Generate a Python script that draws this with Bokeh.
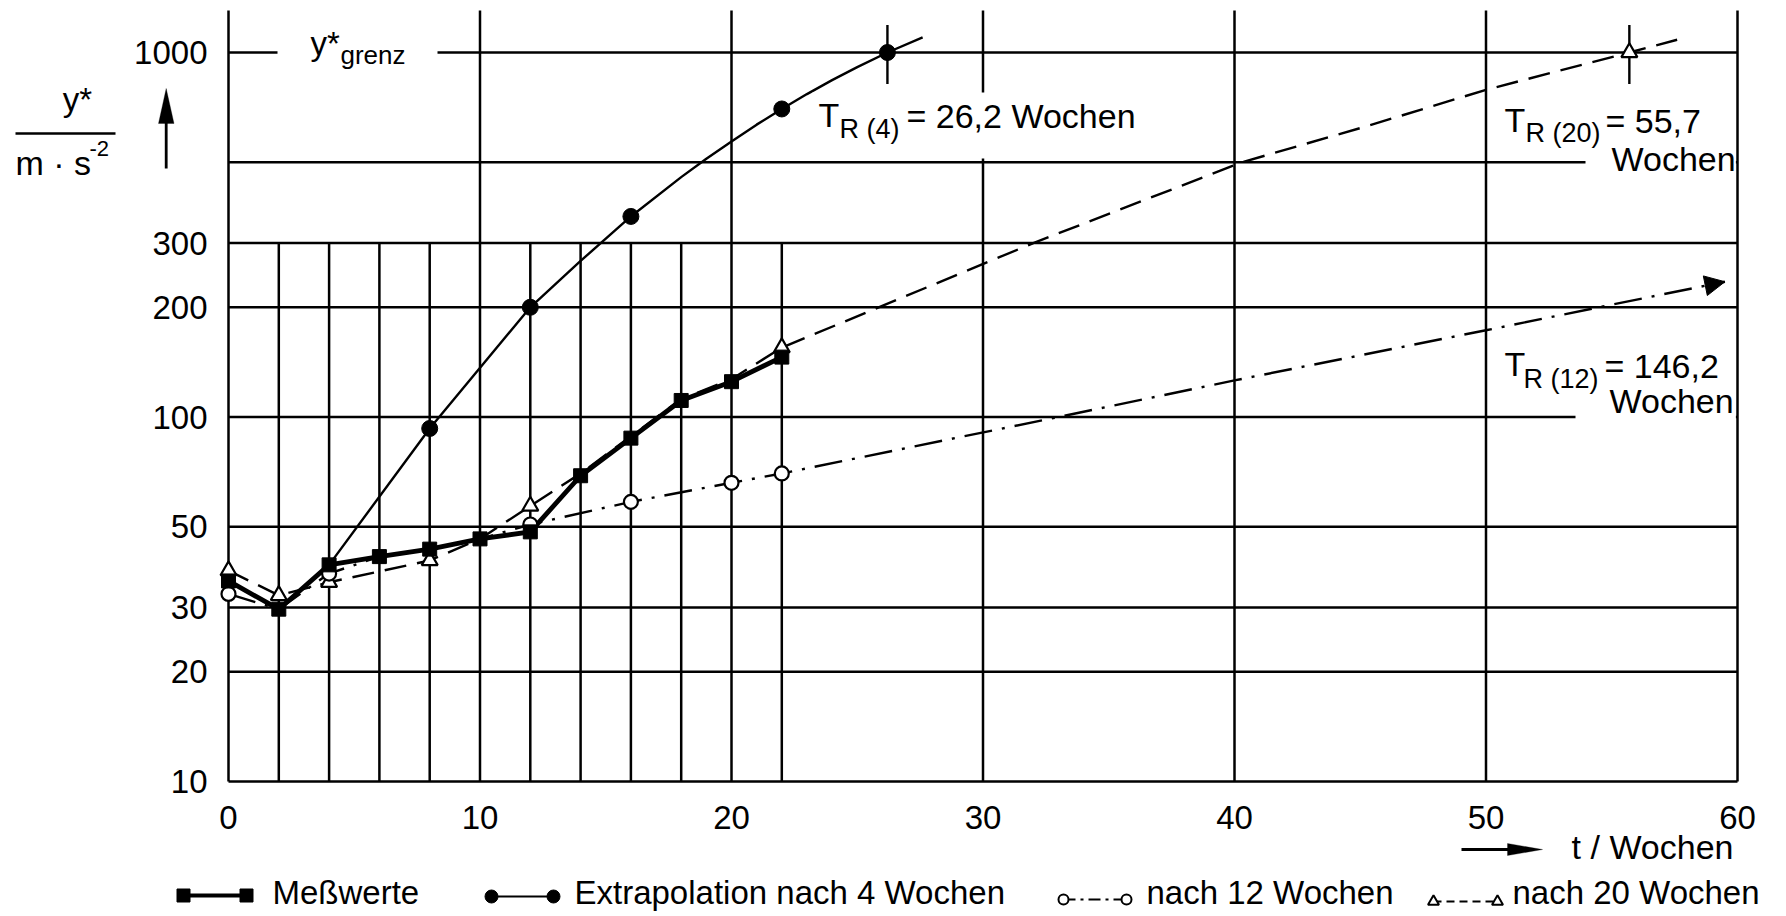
from bokeh.plotting import figure
from bokeh.models import (FixedTicker, NumeralTickFormatter, Label, BoxAnnotation,
                          Arrow, NormalHead, PolyAnnotation)
from bokeh.embed import file_html
from bokeh.resources import INLINE

FONT = "Liberation Sans"

# ---------------- data ----------------
# Messwerte (filled squares)
t_mess = [0, 2, 4, 6, 8, 10, 12, 14, 16, 18, 20, 22]
y_mess = [35.5, 29.7, 39.3, 41.4, 43.4, 46.3, 48.4, 69.0, 87.5, 111.0, 125.0, 146.0]

# Extrapolation nach 4 Wochen (filled circles, thin solid curve)
t_ex4_marks = [8, 12, 16, 22, 26.2]
y_ex4_marks = [93, 200, 355, 700, 1000]
t_ex4_curve = [4, 8, 12, 14, 16, 18, 19, 20, 21, 22, 23, 24, 25, 26.2, 27.6]
y_ex4_curve = [39.3, 93, 200, 268, 355, 455, 511, 570, 634, 700, 769, 840, 912, 1000, 1100]

# nach 12 Wochen (open circles, dash-dot curve)
t_ex12_marks = [0, 4, 12, 16, 20, 22]
y_ex12_marks = [32.7, 37.2, 50.7, 58.5, 66.0, 70.0]
t_ex12_curve = [0, 2, 4, 6, 8, 10, 12, 16, 20, 22, 33, 40, 50, 59.5]
y_ex12_curve = [32.7, 29.7, 37.2, 41.4, 43.4, 46.3, 50.7, 58.5, 66.0, 70.0, 100, 126, 173, 235]

# nach 20 Wochen (open triangles, dashed curve)
t_ex20_marks = [0, 2, 4, 8, 12, 22, 55.7]
y_ex20_marks = [37.9, 32.4, 35.2, 40.4, 57.0, 155, 1000]
t_ex20_curve = [0, 2, 4, 8, 10, 12, 14, 16, 18, 20, 22, 32, 40.3, 45.2, 50, 55.7, 57.6]
y_ex20_curve = [37.9, 32.4, 35.2, 40.4, 46.3, 57.0, 70, 88.5, 112, 127, 155, 300, 500, 626, 790, 1000, 1084]

# limit value and times to reach it
y_grenz = 1000
t_reach = [26.2, 55.7]

# axes / grid
x_ticks = [0, 10, 20, 30, 40, 50, 60]
y_ticks = [10, 20, 30, 50, 100, 200, 300, 1000]
y_grid = [10, 20, 30, 50, 100, 200, 300, 500, 1000]
short_grid_t = [2, 4, 6, 8, 12, 14, 16, 18, 22]
short_grid_top = 300

# ---------------- geometry (page pixels) ----------------
W, H = 1784, 914
PXW = 25.15      # px per week
PXD = 364.5      # px per decade
X0 = 228         # page x of t = 0
Y10 = 781        # page y of y* = 10


def dx(px):
    return (px - X0) / PXW


def dy(py):
    return 10 ** (1 + (Y10 - py) / PXD)


def sx(px):
    return px


def sy(py):
    return H - py


p = figure(width=W, height=H, x_range=(dx(0), dx(W)), y_range=(dy(H), dy(0)),
           y_axis_type="log", output_backend="svg", toolbar_location=None, min_border=0)
p.outline_line_color = None
p.background_fill_color = "white"
p.border_fill_color = "white"
p.grid.visible = False

p.xaxis.ticker = FixedTicker(ticks=x_ticks)
p.yaxis.ticker = FixedTicker(ticks=y_ticks)
p.yaxis.formatter = NumeralTickFormatter(format="0")
p.xaxis.fixed_location = y_ticks[0]
p.yaxis.fixed_location = x_ticks[0]
for ax in p.axis:
    ax.axis_line_color = None
    ax.major_tick_line_color = None
    ax.minor_tick_line_color = None
    ax.major_tick_in = 0
    ax.major_tick_out = 0
    ax.major_label_text_font = FONT
    ax.major_label_text_font_size = "33px"
    ax.major_label_text_color = "black"
p.xaxis.major_label_standoff = 24
p.yaxis.major_label_standoff = 21

# ---------------- grid lines ----------------
GW = 2.5
grid_top = dy(10)
p.segment(x0=x_ticks, y0=[y_grid[0]] * len(x_ticks), x1=x_ticks, y1=[grid_top] * len(x_ticks),
          line_color="black", line_width=GW, level="underlay")
p.segment(x0=[x_ticks[0]] * len(y_grid), y0=y_grid, x1=[x_ticks[-1]] * len(y_grid), y1=y_grid,
          line_color="black", line_width=GW, level="underlay")
p.segment(x0=short_grid_t, y0=[y_grid[0]] * len(short_grid_t), x1=short_grid_t,
          y1=[short_grid_top] * len(short_grid_t), line_color="black",
          line_width=GW, level="underlay")

# white boxes interrupting grid lines behind texts
for (l, r, t, b) in [(277, 437, 40, 64), (812, 1145, 92, 158),
                     (1585, 1735.4, 148, 178), (1575, 1735.4, 390, 424)]:
    p.add_layout(BoxAnnotation(left=sx(l), right=sx(r), top=sy(t), bottom=sy(b),
                               left_units="screen", right_units="screen",
                               top_units="screen", bottom_units="screen",
                               fill_color="white", fill_alpha=1, line_color=None,
                               level="glyph"))

# ---------------- curves ----------------
p.line(t_ex20_curve, y_ex20_curve, line_color="black", line_width=2.4, line_dash="22 11")
p.line(t_ex12_curve, y_ex12_curve, line_color="black", line_width=2.4, line_dash="28 10 3 10")
p.line(t_ex4_curve, y_ex4_curve, line_color="black", line_width=2.4)
p.line(t_mess, y_mess, line_color="black", line_width=4.8)

# cross marks at the reach times
p.segment(x0=t_reach, y0=[y_grenz / 1.22] * 2, x1=t_reach, y1=[y_grenz * 1.19] * 2,
          line_color="black", line_width=2.4)

# arrow head at end of 12-week extrapolation
p.add_layout(Arrow(x_start=t_ex12_curve[-2], y_start=y_ex12_curve[-2],
                   x_end=t_ex12_curve[-1], y_end=y_ex12_curve[-1], line_alpha=0,
                   end=NormalHead(size=20, fill_color="black", line_color="black")))

# markers
p.scatter(t_ex20_marks, y_ex20_marks, marker="triangle", size=16, fill_color="white",
          line_color="black", line_width=2.2)
p.scatter(t_ex12_marks, y_ex12_marks, marker="circle", size=14, fill_color="white",
          line_color="black", line_width=2.2)
p.scatter(t_ex4_marks, y_ex4_marks, marker="circle", size=16, fill_color="black",
          line_color="black")
p.scatter(t_mess, y_mess, marker="square", size=14, fill_color="black", line_color="black")

BASE_SHIFT = 0.39   # correction: rendered baseline lies this many em below the given y


def lab(x, y, text, size, align="left"):
    px_size = float(size.replace("px", ""))
    p.add_layout(Label(x=sx(x), y=sy(y - BASE_SHIFT * px_size), x_units="screen",
                       y_units="screen", text=text, text_font=FONT, text_font_size=size,
                       text_color="black", text_baseline="alphabetic", text_align=align))


# y*grenz
lab(310, 56, "y*", "33px")
lab(340, 65, "grenz", "26px")
# T_R(4)
lab(818, 128, "T", "34px")
lab(839, 139, "R (4)", "27px")
lab(906, 129, "= 26,2 Wochen", "34px")
# T_R(20)
lab(1504, 133, "T", "34px")
lab(1525, 143, "R (20)", "27px")
lab(1605, 134, "= 55,7", "34px")
lab(1611, 172, "Wochen", "34px")
# T_R(12)
lab(1504, 377, "T", "34px")
lab(1523, 389, "R (12)", "27px")
lab(1604, 379, "= 146,2", "34px")
lab(1609, 414, "Wochen", "34px")

# y-axis label (fraction) and arrow
lab(77, 112, "y*", "33px", align="center")
p.add_layout(Arrow(x_start=sx(15), y_start=sy(133), x_end=sx(115), y_end=sy(133),
                   start_units="screen", end_units="screen", start=None, end=None,
                   line_width=2.6, line_color="black"))
lab(15, 176, "m \u00b7 s", "34px")
lab(89, 157, "-2", "22px")
p.add_layout(Arrow(x_start=sx(165.7), y_start=sy(168), x_end=sx(165.7), y_end=sy(118),
                   start_units="screen", end_units="screen", start=None, end=None,
                   line_width=2.8, line_color="black"))
p.add_layout(PolyAnnotation(xs=[sx(165.7), sx(158), sx(173.5)], ys=[sy(88), sy(123), sy(123)],
                            xs_units="screen", ys_units="screen", fill_color="black",
                            fill_alpha=1, line_color="black"))

# x-axis label with arrow
lab(1733, 860, "t / Wochen", "34px", align="right")
p.add_layout(Arrow(x_start=sx(1461), y_start=sy(849), x_end=sx(1510), y_end=sy(849),
                   start_units="screen", end_units="screen", start=None, end=None,
                   line_width=2.8, line_color="black"))
p.add_layout(PolyAnnotation(xs=[sx(1542), sx(1507), sx(1507)], ys=[sy(849), sy(843), sy(855)],
                            xs_units="screen", ys_units="screen", fill_color="black",
                            fill_alpha=1, line_color="black"))

# ---------------- legend row (below the chart) ----------------
leg_labels = ["Meßwerte", "Extrapolation nach 4 Wochen", "nach 12 Wochen", "nach 20 Wochen"]
leg_text_x = [272, 574, 1146, 1512]
LEG_BASE = 905

# sample 1: squares + thick line
lx1, ly1 = [dx(183), dx(246)], [dy(895)] * 2
p.line(lx1, ly1, line_color="black", line_width=4)
p.scatter(lx1, ly1, marker="square", size=13, fill_color="black", line_color="black")
# sample 2: filled circles + thin line
lx2, ly2 = [dx(491), dx(553)], [dy(896)] * 2
p.line(lx2, ly2, line_color="black", line_width=2.2)
p.scatter(lx2, ly2, marker="circle", size=13, fill_color="black", line_color="black")
# sample 3: open circles + dash-dot
lx3, ly3 = [dx(1063), dx(1126)], [dy(899)] * 2
p.line(lx3, ly3, line_color="black", line_width=2.2, line_dash="12 5 3 5")
p.scatter(lx3, ly3, marker="circle", size=10, fill_color="white", line_color="black",
          line_width=2)
# sample 4: open triangles + dashed
lx4, ly4 = [dx(1433), dx(1497)], [dy(901)] * 2
p.line(lx4, ly4, line_color="black", line_width=2.2, line_dash="8 5")
p.scatter(lx4, ly4, marker="triangle", size=11, fill_color="white", line_color="black",
          line_width=2)

for txt, x in zip(leg_labels, leg_text_x):
    lab(x, LEG_BASE, txt, "33px")

open("out.html", "w").write(file_html(p, INLINE))
